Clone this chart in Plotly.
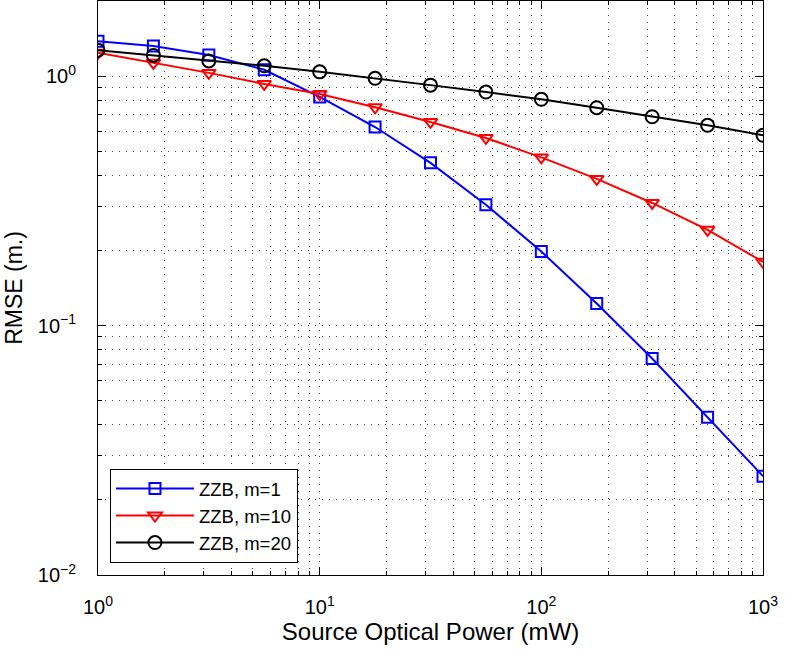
import plotly.graph_objects as go

# Data
power_mw = [1, 1.778, 3.162, 5.623, 10, 17.78, 31.62, 56.23, 100, 177.8, 316.2, 562.3, 1000]
rmse_m1 = [1.38, 1.32, 1.215, 1.06, 0.825, 0.625, 0.449, 0.305, 0.198, 0.1225, 0.0738, 0.0429, 0.0249]
rmse_m10 = [1.24, 1.13, 1.03, 0.93, 0.847, 0.75, 0.655, 0.565, 0.472, 0.387, 0.31, 0.242, 0.18]
rmse_m20 = [1.27, 1.21, 1.15, 1.10, 1.04, 0.98, 0.92, 0.863, 0.807, 0.747, 0.687, 0.635, 0.579]
series_names = ["ZZB, m=1", "ZZB, m=10", "ZZB, m=20"]

x_tickvals = [1, 10, 100, 1000]
x_ticktext = ["10<sup>0</sup>", "10<sup>1</sup>", "10<sup>2</sup>", "10<sup>3</sup>"]
y_tickvals = [0.01, 0.1, 1]
y_ticktext = ["10<sup>−2</sup>", "10<sup>−1</sup>", "10<sup>0</sup>"]

FONT = "Liberation Sans, Arial, Helvetica, sans-serif"

fig = go.Figure()
styles = [
    (rmse_m1, "#0000ff", "square-open", 11),
    (rmse_m10, "#ff0000", "triangle-down-open", 12),
    (rmse_m20, "#000000", "circle-open", 13),
]
for (vals, col, sym, sz), name in zip(styles, series_names):
    fig.add_trace(go.Scatter(
        x=power_mw, y=vals, name=name, mode="lines+markers",
        line=dict(color=col, width=2),
        marker=dict(symbol=sym, size=sz, color=col, line=dict(color=col, width=2)),
    ))

grid_common = dict(
    showgrid=True, gridcolor="#444444", gridwidth=1, griddash="1px,6px",
    showline=True, linecolor="black", linewidth=1, mirror="ticks",
    ticks="inside", ticklen=8, tickcolor="black", tickwidth=1,
    tickmode="array", zeroline=False, automargin=False,
    tickfont=dict(family=FONT, size=20, color="black"),
    minor=dict(ticks="inside", ticklen=4, tickcolor="black", showgrid=True,
               gridcolor="#444444", gridwidth=1, griddash="1px,6px", dtick="D1"),
)

fig.update_xaxes(type="log", range=[0, 3], ticklabelstandoff=14,
                 tickvals=x_tickvals, ticktext=x_ticktext,
                 title=dict(text="Source Optical Power (mW)", standoff=4,
                            font=dict(family=FONT, size=24, color="black")),
                 **grid_common)
fig.update_yaxes(type="log", range=[-2, 0.30103], ticklabelstandoff=17,
                 tickvals=y_tickvals, ticktext=y_ticktext,
                 title=dict(text="RMSE (m.)", standoff=8,
                            font=dict(family=FONT, size=23, color="black")),
                 **grid_common)

fig.update_layout(
    width=785, height=651,
    margin=dict(l=98, r=22, t=1, b=76),
    paper_bgcolor="white", plot_bgcolor="white",
    font=dict(family=FONT, color="black"),
    legend=dict(x=0.018, y=0.021, xanchor="left", yanchor="bottom",
                bgcolor="white", bordercolor="black", borderwidth=1,
                font=dict(family=FONT, size=18.5, color="black"),
                itemwidth=78, tracegroupgap=0),
    showlegend=True,
)

fig.write_html("out.html",
               config={"displayModeBar": False},
               post_script="document.body.style.margin='0';document.body.style.overflow='hidden';")
